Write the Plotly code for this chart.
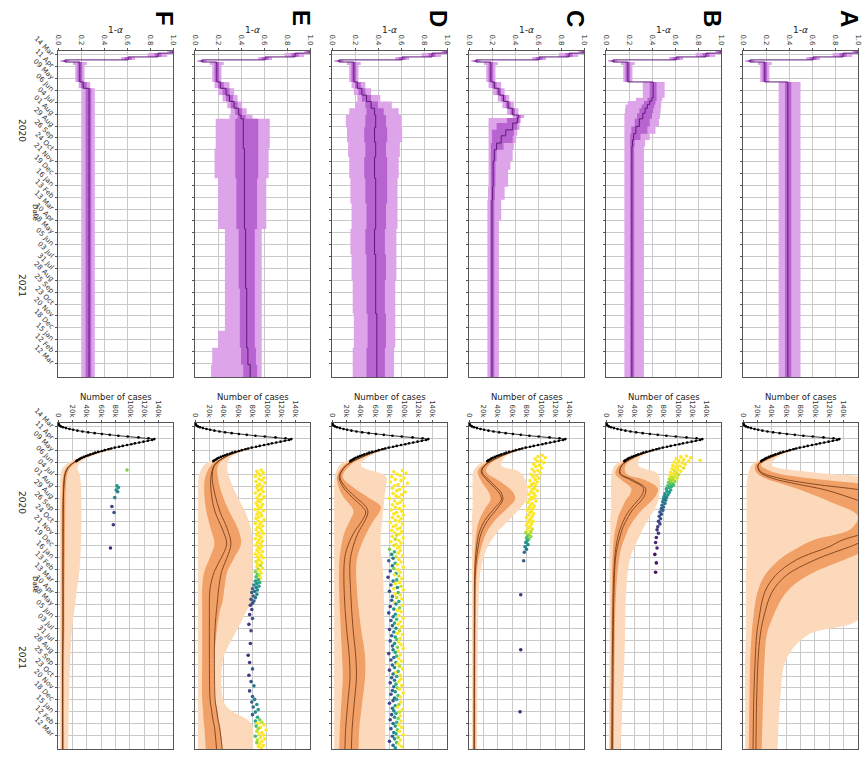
import pandas as pd
import plotly.graph_objects as go

# ------------------------------------------------------------------
# Time axis: days are counted from the first day of the record
# ------------------------------------------------------------------
START = pd.Timestamp("2020-03-05")
AXIS_END = pd.Timestamp("2022-04-13")
TICK_DATES = pd.date_range("2020-03-14", "2022-03-12", freq="28D")

PANELS = ["F", "E", "D", "C", "B", "A"]          # left to right

# ------------------------------------------------------------------
# 1-alpha : rows = (day, median, inner_lo, inner_hi, outer_lo, outer_hi)
# ------------------------------------------------------------------
ALPHA_EARLY = [
    (0, 1.00, 0.97, 1.00, 0.95, 1.00),
    (5, 0.87, 0.84, 0.90, 0.78, 0.95),
    (14, 0.61, 0.58, 0.64, 0.55, 0.67),
    (21, 0.06, 0.04, 0.08, 0.02, 0.10),
    (26, 0.19, 0.17, 0.21, 0.13, 0.25),
    (33, 0.19, 0.17, 0.21, 0.15, 0.23),
]
ALPHA_A = [
    (73, 0.39, 0.365, 0.42, 0.31, 0.50),
    (770, 0.39, 0.365, 0.42, 0.31, 0.50),
]
ALPHA_B = [
    (73, 0.41, 0.38, 0.44, 0.32, 0.51),
    (110, 0.40, 0.36, 0.44, 0.26, 0.49),
    (118, 0.38, 0.33, 0.43, 0.19, 0.48),
    (126, 0.36, 0.31, 0.42, 0.17, 0.48),
    (135, 0.34, 0.29, 0.41, 0.165, 0.475),
    (147, 0.32, 0.27, 0.40, 0.16, 0.47),
    (160, 0.29, 0.25, 0.38, 0.16, 0.46),
    (178, 0.26, 0.22, 0.36, 0.16, 0.43),
    (195, 0.24, 0.21, 0.30, 0.16, 0.38),
    (210, 0.23, 0.21, 0.25, 0.16, 0.34),
    (225, 0.225, 0.21, 0.245, 0.16, 0.33),
    (770, 0.225, 0.21, 0.245, 0.16, 0.33),
]
ALPHA_C = [
    (73, 0.22, 0.20, 0.24, 0.17, 0.28),
    (88, 0.26, 0.24, 0.28, 0.21, 0.31),
    (104, 0.30, 0.28, 0.32, 0.25, 0.35),
    (119, 0.34, 0.32, 0.36, 0.29, 0.39),
    (135, 0.38, 0.36, 0.40, 0.33, 0.43),
    (151, 0.43, 0.41, 0.45, 0.38, 0.48),
    (158, 0.42, 0.33, 0.44, 0.17, 0.45),
    (170, 0.38, 0.24, 0.42, 0.17, 0.44),
    (186, 0.32, 0.20, 0.39, 0.17, 0.42),
    (200, 0.28, 0.20, 0.38, 0.17, 0.41),
    (217, 0.24, 0.19, 0.30, 0.17, 0.39),
    (233, 0.22, 0.19, 0.24, 0.17, 0.38),
    (260, 0.21, 0.19, 0.23, 0.17, 0.36),
    (280, 0.21, 0.19, 0.23, 0.17, 0.34),
    (320, 0.205, 0.19, 0.225, 0.165, 0.31),
    (351, 0.20, 0.185, 0.22, 0.16, 0.28),
    (400, 0.20, 0.185, 0.22, 0.16, 0.26),
    (770, 0.20, 0.185, 0.22, 0.16, 0.26),
]
ALPHA_D = [
    (73, 0.22, 0.20, 0.25, 0.17, 0.29),
    (88, 0.26, 0.23, 0.29, 0.19, 0.34),
    (104, 0.30, 0.26, 0.34, 0.22, 0.42),
    (119, 0.34, 0.29, 0.40, 0.20, 0.52),
    (135, 0.37, 0.30, 0.45, 0.15, 0.58),
    (151, 0.38, 0.29, 0.47, 0.12, 0.60),
    (180, 0.37, 0.28, 0.48, 0.13, 0.61),
    (215, 0.38, 0.29, 0.47, 0.14, 0.59),
    (250, 0.37, 0.28, 0.48, 0.15, 0.58),
    (300, 0.38, 0.29, 0.48, 0.16, 0.57),
    (360, 0.38, 0.30, 0.47, 0.17, 0.57),
    (420, 0.37, 0.29, 0.46, 0.16, 0.56),
    (480, 0.38, 0.30, 0.47, 0.17, 0.56),
    (540, 0.38, 0.30, 0.46, 0.18, 0.55),
    (620, 0.39, 0.31, 0.47, 0.19, 0.55),
    (700, 0.39, 0.30, 0.46, 0.18, 0.54),
    (770, 0.39, 0.30, 0.46, 0.18, 0.54),
]
ALPHA_E = [
    (73, 0.22, 0.20, 0.25, 0.17, 0.30),
    (88, 0.27, 0.24, 0.30, 0.20, 0.34),
    (104, 0.30, 0.27, 0.33, 0.24, 0.37),
    (119, 0.34, 0.31, 0.37, 0.28, 0.41),
    (135, 0.38, 0.35, 0.41, 0.31, 0.45),
    (151, 0.40, 0.37, 0.44, 0.30, 0.50),
    (160, 0.42, 0.35, 0.55, 0.18, 0.65),
    (230, 0.43, 0.35, 0.55, 0.17, 0.64),
    (300, 0.43, 0.36, 0.54, 0.20, 0.62),
    (420, 0.44, 0.38, 0.52, 0.26, 0.58),
    (560, 0.45, 0.39, 0.52, 0.26, 0.58),
    (660, 0.45, 0.39, 0.52, 0.20, 0.58),
    (700, 0.46, 0.40, 0.53, 0.15, 0.58),
    (740, 0.48, 0.42, 0.54, 0.14, 0.58),
    (770, 0.48, 0.42, 0.54, 0.14, 0.58),
]
ALPHA_F = [
    (73, 0.22, 0.20, 0.25, 0.18, 0.28),
    (88, 0.27, 0.24, 0.29, 0.21, 0.32),
    (770, 0.27, 0.24, 0.29, 0.21, 0.32),
]

# ------------------------------------------------------------------
# Number of cases (thousands)
# observed: (day, value)
# model: (day, median, mean, inner_lo, inner_hi, outer_lo, outer_hi)
# ------------------------------------------------------------------
OBSERVED = [
    (0, 0.2), (2, 0.5), (4, 1), (6, 2), (8, 4), (10, 7), (12, 11), (14, 16),
    (16, 21), (18, 27), (20, 34), (22, 42), (24, 51), (26, 61), (28, 72),
    (30, 84), (32, 97), (34, 112), (36, 126), (38, 134), (40, 131), (42, 125),
    (44, 119), (46, 113), (48, 107), (50, 102), (52, 96), (54, 90), (56, 85),
    (58, 79), (60, 74), (62, 70), (64, 65), (66, 61), (68, 56), (70, 52),
    (72, 49), (74, 45), (76, 42), (78, 39), (80, 36), (82, 33), (84, 31),
    (86, 29), (88, 27), (90, 25.5),
]
CASES_A = [
    (60, 74, 74, 72, 76, 70, 78),
    (80, 40, 40, 37, 43, 33, 48),
    (99, 21, 21, 17, 25, 12, 40),
    (115, 25, 23, 18, 40, 8, 90),
    (130, 50, 40, 30, 90, 6, 200),
    (144, 98, 75, 55, 170, 5, 250),
    (158, 165, 115, 80, 250, 5, 300),
    (185, 260, 165, 120, 350, 5, 300),
    (220, 300, 230, 160, 380, 5, 300),
    (250, 200, 260, 150, 350, 5, 300),
    (275, 140, 175, 100, 230, 5, 300),
    (291, 121, 150, 80, 190, 5, 280),
    (323, 74, 100, 50, 140, 5, 250),
    (360, 45, 60, 30, 90, 4, 200),
    (400, 30, 40, 20, 60, 4, 170),
    (464, 22, 28, 14, 40, 4, 160),
    (500, 19, 24, 12, 33, 4, 90),
    (558, 17, 21, 10, 30, 3, 60),
    (650, 15, 19, 9, 28, 3, 52),
    (770, 14, 18, 8, 26, 3, 48),
]
CASES_B = [
    (60, 74, 74, 72, 76, 70, 78),
    (80, 40, 40, 37, 43, 33, 48),
    (100, 22, 22, 18, 27, 12, 45),
    (119, 19, 20, 13, 28, 8, 72),
    (135, 35, 38, 22, 55, 7, 75),
    (154, 52, 55, 35, 72, 7, 75),
    (170, 50, 54, 33, 70, 7, 74),
    (181, 45, 50, 28, 65, 7, 73),
    (205, 33, 37, 21, 50, 7, 67),
    (221, 27, 31, 17, 42, 6, 61),
    (244, 21, 24, 14, 33, 6, 53),
    (259, 18, 21, 12, 29, 6, 49),
    (291, 14, 16, 10, 22, 5, 40),
    (323, 12, 13, 9, 18, 5, 33),
    (400, 10, 11, 8, 14, 5, 28),
    (535, 9, 10, 7, 12, 5, 26),
    (770, 8, 9, 6, 11, 4, 20),
]
CASES_C = [
    (60, 74, 74, 72, 76, 70, 78),
    (80, 42, 42, 40, 45, 35, 50),
    (100, 22, 22, 18, 27, 12, 45),
    (115, 17, 18, 12, 24, 6, 70),
    (140, 28, 31, 18, 45, 5, 80),
    (165, 42, 45, 28, 62, 5, 82),
    (181, 45, 47, 30, 64, 5, 80),
    (200, 36, 40, 23, 54, 5, 72),
    (230, 22, 26, 14, 36, 4, 55),
    (260, 14, 17, 10, 24, 4, 38),
    (300, 10, 12, 8, 16, 4, 24),
    (350, 8, 9, 7, 11, 4, 16),
    (450, 7.5, 8, 6.5, 9.5, 4, 13),
    (770, 7, 7.5, 6, 9, 4, 11),
]
CASES_D = [
    (60, 74, 74, 72, 76, 70, 78),
    (80, 42, 42, 40, 45, 35, 50),
    (100, 20, 20, 16, 25, 10, 40),
    (126, 10, 11, 7, 15, 4, 75),
    (150, 15, 18, 9, 28, 3, 75),
    (175, 28, 33, 16, 50, 3, 73),
    (197, 42, 47, 27, 68, 3, 72),
    (210, 47, 50, 30, 66, 3, 71),
    (230, 42, 46, 25, 58, 3, 70),
    (260, 30, 36, 17, 48, 3, 68),
    (300, 20, 28, 12, 38, 3, 68),
    (330, 17, 25, 10, 34, 3, 70),
    (400, 17, 26, 10, 35, 3, 72),
    (480, 20, 29, 12, 40, 3, 73),
    (550, 24, 33, 14, 46, 3, 74),
    (600, 25, 34, 15, 46, 3, 74),
    (660, 22, 31, 13, 42, 3, 74),
    (720, 19, 28, 11, 38, 3, 74),
    (770, 18, 27, 10, 37, 3, 74),
]
CASES_E = [
    (60, 74, 74, 72, 76, 70, 78),
    (80, 42, 42, 40, 45, 35, 50),
    (100, 27, 27, 22, 32, 12, 45),
    (130, 22, 24, 14, 32, 5, 48),
    (170, 23, 28, 13, 38, 4, 58),
    (210, 28, 35, 16, 48, 4, 70),
    (250, 38, 45, 22, 60, 4, 78),
    (285, 44, 50, 27, 64, 4, 80),
    (320, 36, 44, 20, 54, 4, 80),
    (350, 27, 37, 13, 45, 4, 80),
    (390, 21, 33, 10, 41, 4, 80),
    (424, 20, 31, 10, 38, 4, 80),
    (440, 20, 30, 10, 35, 4, 73),
    (480, 20, 28, 10, 31, 4, 61),
    (528, 20, 27, 10, 28, 4, 46),
    (558, 20, 27, 10, 27, 4, 39),
    (653, 21, 28, 10, 28, 4, 39),
    (676, 23, 30, 11, 31, 4, 48),
    (700, 25, 32, 12, 33, 4, 73),
    (716, 27, 34, 13, 35, 4, 80),
    (770, 30, 38, 15, 38, 4, 80),
]
CASES_F = [
    (60, 74, 74, 72, 76, 70, 78),
    (75, 46, 46, 44, 48, 40, 52),
    (90, 25, 25, 23, 28, 18, 33),
    (105, 14, 14, 12, 17, 7, 27),
    (120, 10, 10, 8, 13, 4, 30),
    (150, 8, 8, 6, 11, 3, 32),
    (323, 7, 7, 5, 9.5, 3, 31),
    (400, 7, 7, 5, 9, 3, 26),
    (480, 7, 7, 5, 9, 3, 20),
    (558, 6.5, 6.5, 5, 8.5, 3, 17),
    (770, 6.5, 6.5, 5, 8.5, 3, 14),
]

# scattered estimates: (day, value in thousands, colour 0..1)
DOTS_A = []
DOTS_B = [
    (78, 112, 1), (80, 104, 1), (82, 118, 1), (84, 98, 1), (86, 108, 1), (88, 131, 1),
    (89, 101, 1), (90, 115, 1), (92, 95, 1), (94, 106, 1), (96, 99, 1), (98, 110, 1),
    (100, 93, 1), (102, 103, 1), (104, 97, 1), (106, 108, .95), (108, 92, 1), (110, 100, 1),
    (112, 95, .95), (114, 104, 1), (116, 90, 1), (118, 98, .95), (120, 94, 1), (122, 101, .9),
    (124, 89, 1), (126, 96, .95), (128, 92, .9), (130, 99, .95), (132, 88, .9), (134, 94, .9),
    (136, 90, .85), (138, 96, .85), (140, 87, .8), (142, 92, .8), (144, 89, .75),
    (146, 94, .7), (148, 86, .7), (150, 91, .65), (152, 88, .65), (155, 84, .6), (158, 90, .6),
    (161, 85, .55), (164, 88, .55), (167, 82, .5), (170, 86, .5), (173, 81, .5), (176, 84, .45),
    (179, 80, .45), (182, 83, .4), (186, 79, .4), (190, 82, .4), (194, 78, .35), (198, 80, .35),
    (202, 77, .3), (206, 79, .3), (210, 75, .3), (215, 77, .25), (220, 74, .25), (226, 76, .25),
    (232, 73, .2), (238, 75, .2), (245, 72, .2), (252, 71, .15), (260, 73, .15), (270, 70, .1),
    (282, 69, .1), (295, 71, .1), (310, 68, .05), (330, 70, .05), (352, 69, .05),
]
DOTS_C = [
    (76, 102, 1), (79, 96, 1), (82, 106, 1), (85, 92, 1), (88, 100, 1), (91, 95, 1),
    (94, 104, 1), (97, 90, 1), (100, 98, 1), (103, 93, 1), (106, 101, 1), (109, 88, 1),
    (112, 96, 1), (115, 91, 1), (118, 99, 1), (121, 86, 1), (124, 94, 1), (127, 89, 1),
    (130, 97, 1), (133, 92, 1), (136, 85, 1), (139, 95, 1), (142, 90, 1), (145, 87, 1),
    (148, 93, 1), (151, 84, 1), (154, 91, 1), (157, 88, 1), (160, 95, 1), (163, 86, 1),
    (166, 90, 1), (169, 83, 1), (172, 92, 1), (175, 87, 1), (178, 89, 1), (181, 85, 1),
    (184, 93, 1), (187, 82, 1), (190, 88, 1), (193, 86, 1), (196, 91, 1), (199, 84, 1),
    (202, 89, 1), (205, 81, 1), (208, 87, 1), (211, 85, 1), (214, 90, 1), (217, 83, 1),
    (220, 88, 1), (223, 80, 1), (226, 86, 1), (229, 84, 1), (232, 89, 1), (235, 82, 1),
    (238, 87, 1), (241, 80, 1), (244, 85, 1), (247, 83, 1), (250, 88, .95), (253, 81, 1),
    (256, 86, .9), (259, 79, .85), (262, 84, .9), (265, 82, .8), (268, 86, .85), (271, 80, .7),
    (274, 83, .75), (278, 81, .6), (282, 79, .5), (287, 82, .5), (292, 78, .45), (298, 80, .4),
    (305, 77, .35), (325, 76, .3), (405, 72, .15), (535, 72, .1), (681, 71, .1),
]
DOTS_D = [
    (112, 98, 1), (115, 86, 1), (118, 103, 1), (121, 91, 1), (124, 95, 1), (127, 83, 1),
    (130, 100, 1), (133, 88, 1), (136, 96, 1), (139, 81, 1), (142, 105, 1), (145, 92, 1),
    (148, 87, 1), (151, 99, 1), (154, 84, 1), (157, 94, 1), (160, 90, 1), (163, 102, 1),
    (166, 85, 1), (169, 97, 1), (172, 89, 1), (175, 93, 1), (178, 80, 1), (181, 98, 1),
    (184, 87, 1), (187, 95, 1), (190, 91, 1), (193, 84, 1), (196, 100, 1), (199, 88, 1),
    (202, 94, 1), (205, 82, 1), (208, 97, 1), (211, 90, 1), (214, 86, 1), (217, 99, 1),
    (220, 92, 1), (223, 84, 1), (226, 96, 1), (229, 88, 1), (232, 93, 1), (235, 81, 1),
    (238, 98, 1), (241, 89, 1), (244, 85, 1), (247, 95, 1), (250, 91, 1), (253, 83, 1),
    (256, 97, 1), (259, 87, 1), (262, 94, 1), (265, 90, .95), (268, 84, 1), (271, 99, 1),
    (274, 88, .9), (277, 93, 1), (280, 82, 1), (283, 96, 1), (286, 89, 1), (289, 86, .95),
    (292, 94, 1), (295, 91, 1), (298, 80, .8), (301, 95, 1), (304, 87, .7), (307, 92, 1),
    (310, 83, .5), (313, 98, 1), (316, 89, .9), (319, 85, .4), (322, 93, 1), (325, 79, .3),
    (328, 96, 1), (331, 88, .6), (334, 91, 1), (337, 84, .35), (340, 99, 1), (343, 86, .8),
    (346, 92, 1), (349, 81, .25), (352, 95, 1), (355, 89, .55), (358, 87, 1), (361, 93, .9),
    (364, 78, .2), (367, 97, 1), (370, 90, .65), (373, 85, .4), (376, 94, 1), (379, 88, 1),
    (382, 82, .3), (385, 96, .95), (388, 91, .5), (391, 86, 1), (394, 99, 1), (397, 80, .25),
    (400, 92, .7), (403, 88, 1), (406, 95, 1), (409, 84, .35), (412, 90, .9), (415, 97, 1),
    (418, 83, .3), (421, 93, .6), (424, 87, 1), (427, 89, .45), (430, 98, 1), (433, 81, .2),
    (436, 94, .8), (439, 86, .5), (442, 91, 1), (445, 96, 1), (448, 79, .2), (451, 88, .55),
    (454, 93, 1), (457, 85, .4), (460, 99, 1), (463, 90, .7), (466, 82, .3), (469, 95, 1),
    (472, 87, .6), (475, 92, 1), (478, 84, .35), (481, 97, 1), (484, 89, .5), (487, 80, .2),
    (490, 94, .9), (493, 86, .45), (496, 91, 1), (499, 98, 1), (502, 83, .3), (505, 88, .6),
    (508, 95, 1), (511, 90, .75), (514, 81, .25), (517, 93, 1), (520, 87, .5), (523, 96, 1),
    (526, 84, .3), (529, 91, .8), (532, 99, 1), (535, 85, .4), (538, 92, 1), (541, 88, .6),
    (544, 79, .2), (547, 95, 1), (550, 90, .7), (553, 86, .35), (556, 93, 1), (559, 82, .25),
    (562, 97, 1), (565, 89, .55), (568, 91, 1), (571, 84, .3), (574, 94, .9), (577, 87, .5),
    (580, 98, 1), (583, 80, .2), (586, 92, .7), (589, 88, 1), (592, 85, .4), (595, 95, 1),
    (598, 90, .6), (601, 83, .3), (604, 96, 1), (607, 87, .45), (610, 93, 1), (613, 81, .2),
    (616, 89, .65), (619, 97, 1), (622, 86, .35), (625, 91, .8), (628, 94, 1), (631, 84, .3),
    (634, 88, .5), (637, 99, 1), (640, 82, .25), (643, 92, .7), (646, 95, 1), (649, 87, .4),
    (652, 90, .6), (655, 85, .3), (658, 96, 1), (661, 80, .2), (664, 93, .85), (667, 88, .5),
    (670, 91, 1), (673, 84, .35), (676, 98, 1), (679, 86, .45), (682, 94, .9), (685, 89, .6),
    (688, 83, .25), (691, 95, 1), (694, 87, .5), (697, 92, .8), (700, 81, .2), (703, 96, 1),
    (706, 90, .65), (709, 85, .35), (712, 93, 1), (715, 88, .55), (718, 97, 1), (721, 82, .25),
    (724, 91, .75), (727, 94, 1), (730, 86, .4), (733, 89, .6), (736, 99, 1), (739, 84, .3),
    (742, 92, .85), (745, 87, .5), (748, 95, 1), (751, 80, .2), (754, 90, .7), (757, 93, 1),
    (760, 85, .35), (763, 97, 1), (766, 88, .55),
]
DOTS_E = [
    (111, 92, 1), (114, 86, 1), (117, 95, 1), (120, 88, 1), (123, 91, 1), (126, 84, 1),
    (129, 96, 1), (132, 89, 1), (135, 93, 1), (138, 85, 1), (141, 97, 1), (144, 90, 1),
    (147, 87, 1), (150, 94, 1), (153, 86, 1), (156, 92, 1), (159, 88, 1), (162, 95, 1),
    (165, 84, 1), (168, 91, 1), (171, 89, 1), (174, 96, 1), (177, 86, 1), (180, 93, 1),
    (183, 88, 1), (186, 90, 1), (189, 85, 1), (192, 94, 1), (195, 87, 1), (198, 92, 1),
    (201, 89, 1), (204, 84, 1), (207, 95, 1), (210, 88, 1), (213, 91, 1), (216, 86, 1),
    (219, 93, 1), (222, 89, 1), (225, 85, 1), (228, 96, 1), (231, 88, 1), (234, 92, 1),
    (237, 84, 1), (240, 90, 1), (243, 94, 1), (246, 87, 1), (249, 91, 1), (252, 85, 1),
    (255, 93, 1), (258, 88, 1), (261, 95, 1), (264, 86, 1), (267, 90, 1), (270, 92, 1),
    (273, 84, 1), (276, 89, 1), (279, 94, 1), (282, 87, 1), (285, 91, 1), (288, 85, 1),
    (291, 93, 1), (294, 88, 1), (297, 90, 1), (300, 86, 1), (303, 94, 1), (306, 89, 1),
    (309, 84, 1), (312, 92, 1), (315, 87, 1), (318, 95, 1), (321, 88, 1), (324, 90, 1),
    (327, 85, .95), (330, 93, 1), (333, 87, 1), (336, 91, .9), (339, 86, 1), (342, 94, 1),
    (345, 88, .85), (348, 90, 1), (351, 84, .8), (354, 92, 1), (357, 87, .75), (360, 89, .9),
    (363, 85, .7), (366, 91, 1), (370, 88, .6), (373, 84, .55), (376, 90, .65), (379, 86, .5),
    (382, 82, .45), (385, 89, .55), (388, 85, .4), (391, 80, .35), (394, 87, .5), (397, 83, .35),
    (400, 79, .3), (404, 86, .45), (408, 81, .3), (412, 84, .4), (416, 78, .25), (420, 82, .3),
    (425, 80, .25), (430, 77, .2), (440, 79, .2), (452, 76, .15), (461, 80, .25), (475, 75, .15),
    (490, 78, .2), (520, 77, .15), (548, 74, .1), (565, 76, .15), (580, 80, .3), (595, 75, .15),
    (610, 78, .25), (620, 82, .4), (632, 76, .2), (645, 80, .3), (652, 83, .45), (658, 79, .3),
    (664, 86, .5), (670, 81, .35), (676, 88, .55), (682, 84, .45), (688, 80, .3), (694, 87, .6),
    (700, 90, .8), (703, 84, .6), (706, 93, .9), (709, 87, 1), (712, 96, 1), (715, 85, .7),
    (718, 91, 1), (721, 88, .85), (724, 99, 1), (727, 86, .9), (730, 93, 1), (733, 89, 1),
    (736, 95, 1), (739, 84, .7), (742, 91, 1), (745, 97, 1), (748, 87, .9), (751, 93, 1),
    (754, 86, .8), (757, 90, 1), (760, 95, 1), (763, 88, 1), (766, 92, 1),
]
DOTS_F = [
    (111, 96, .8), (148, 82, .55), (152, 84, .5), (158, 81, .5), (162, 83, .45),
    (176, 79, .45), (197, 75, .2), (211, 78, .25), (240, 77, .15), (295, 73, .1),
]

ALPHA = {"A": ALPHA_A, "B": ALPHA_B, "C": ALPHA_C, "D": ALPHA_D, "E": ALPHA_E, "F": ALPHA_F}
CASES = {"A": CASES_A, "B": CASES_B, "C": CASES_C, "D": CASES_D, "E": CASES_E, "F": CASES_F}
DOTS = {"A": DOTS_A, "B": DOTS_B, "C": DOTS_C, "D": DOTS_D, "E": DOTS_E, "F": DOTS_F}

# ------------------------------------------------------------------
# Styling
# ------------------------------------------------------------------
PURPLE_LIGHT = "#dea4ea"
PURPLE_DARK = "#b764d0"
PURPLE_LINE = "#5e1a78"
ORANGE_LIGHT = "#fdd9bb"
ORANGE_DARK = "#f1a067"
ORANGE_LINE = "#6e3510"
GRID = "#c9c9c9"
FRAME = "#555555"
FONT = "DejaVu Sans"

W, H = 866, 757
COL_LEFT = [58, 195, 332, 469, 606, 743]
COL_W = 115
ROW_TOP = [51, 423]
ROW_H = 326


def to_dates(days):
    return [START + pd.Timedelta(days=float(d)) for d in days]


def col(rows, i):
    return [r[i] for r in rows]


fig = go.Figure()


def ref(k):
    return ("x" if k == 1 else f"x{k}"), ("y" if k == 1 else f"y{k}")


def band(k, days, lo, hi, color, shape):
    xr, yr = ref(k)
    d = to_dates(days)
    common = dict(mode="lines", xaxis=xr, yaxis=yr, hoverinfo="skip", showlegend=False)
    fig.add_trace(go.Scatter(x=lo, y=d, line=dict(width=0, shape=shape, color=color), **common))
    fig.add_trace(go.Scatter(x=hi, y=d, line=dict(width=0, shape=shape, color=color),
                             fill="tonextx", fillcolor=color, **common))


def line(k, days, vals, color, width, shape):
    xr, yr = ref(k)
    fig.add_trace(go.Scatter(x=vals, y=to_dates(days), mode="lines", xaxis=xr, yaxis=yr,
                             line=dict(color=color, width=width, shape=shape),
                             hoverinfo="skip", showlegend=False))


def thousands(v):
    return [x * 1000 for x in v]


for c, p in enumerate(PANELS):
    # top row: 1 - alpha
    k = c + 1
    rows = ALPHA_EARLY + ALPHA[p]
    days = col(rows, 0)
    band(k, days, col(rows, 4), col(rows, 5), PURPLE_LIGHT, "vh")
    band(k, days, col(rows, 2), col(rows, 3), PURPLE_DARK, "vh")
    line(k, days, col(rows, 1), PURPLE_LINE, 1.0, "vh")

    # bottom row: number of cases
    k = c + 7
    rows = CASES[p]
    days = col(rows, 0)
    band(k, days, thousands(col(rows, 5)), thousands(col(rows, 6)), ORANGE_LIGHT, "spline")
    band(k, days, thousands(col(rows, 3)), thousands(col(rows, 4)), ORANGE_DARK, "spline")
    line(k, days, thousands(col(rows, 1)), ORANGE_LINE, 0.8, "spline")
    line(k, days, thousands(col(rows, 2)), ORANGE_LINE, 0.8, "spline")

    xr, yr = ref(k)
    fig.add_trace(go.Scatter(
        x=thousands(col(OBSERVED, 1)), y=to_dates(col(OBSERVED, 0)), mode="lines+markers",
        xaxis=xr, yaxis=yr, line=dict(color="black", width=0.8),
        marker=dict(color="black", size=2.6), hoverinfo="skip", showlegend=False))
    if DOTS[p]:
        fig.add_trace(go.Scatter(
            x=thousands(col(DOTS[p], 1)), y=to_dates(col(DOTS[p], 0)), mode="markers",
            xaxis=xr, yaxis=yr,
            marker=dict(size=3.6, color=col(DOTS[p], 2), colorscale="Viridis", cmin=0, cmax=1),
            hoverinfo="skip", showlegend=False))

# ------------------------------------------------------------------
# Axes (fixed geometry: no automatic margin growth)
# ------------------------------------------------------------------
layout_axes = {}
for r in range(2):
    for c in range(6):
        k = r * 6 + c + 1
        x0 = COL_LEFT[c] / W
        x1 = (COL_LEFT[c] + COL_W) / W
        y1 = 1 - ROW_TOP[r] / H
        y0 = 1 - (ROW_TOP[r] + ROW_H) / H
        xr, yr = ref(k)
        if r == 0:
            xt = dict(range=[0, 1], tickvals=[0, 0.2, 0.4, 0.6, 0.8, 1.0],
                      ticktext=["0.0", "0.2", "0.4", "0.6", "0.8", "1.0"])
        else:
            xt = dict(range=[0, 160000], tickvals=[0, 20000, 40000, 60000, 80000, 100000, 120000, 140000],
                      ticktext=["0", "20k", "40k", "60k", "80k", "100k", "120k", "140k"])
        layout_axes["xaxis" if k == 1 else f"xaxis{k}"] = dict(
            domain=[x0, x1], anchor=yr, side="top", tickangle=90, automargin=False,
            tickfont=dict(size=7, color="#333", family=FONT),
            showgrid=True, gridcolor=GRID, gridwidth=0.8, zeroline=False,
            showline=True, linecolor=FRAME, linewidth=1, mirror=True,
            ticks="outside", ticklen=2, tickcolor=FRAME, fixedrange=True, **xt)
        layout_axes["yaxis" if k == 1 else f"yaxis{k}"] = dict(
            domain=[y0, y1], anchor=xr, type="date", range=[AXIS_END, START], automargin=False,
            tickvals=list(TICK_DATES), ticktext=[d.strftime("%d %b") for d in TICK_DATES],
            showticklabels=(c == 0), tickangle=45,
            tickfont=dict(size=7, color="#333", family=FONT),
            showgrid=True, gridcolor=GRID, gridwidth=0.8, zeroline=False,
            showline=True, linecolor=FRAME, linewidth=1, mirror=True,
            ticks="outside", ticklen=2, tickcolor=FRAME, fixedrange=True)

# ------------------------------------------------------------------
# Text
# ------------------------------------------------------------------
ann = []
for c, p in enumerate(PANELS):
    cx = (COL_LEFT[c] + COL_W / 2) / W
    ann.append(dict(text=f"<b>{p}</b>", x=(COL_LEFT[c] + COL_W - 9) / W, y=1 - 18 / H,
                    textangle=90, font=dict(size=24, family="Liberation Sans", color="black")))
    ann.append(dict(text="1-<i>α</i>", x=cx, y=1 - 30 / H, font=dict(size=9, family=FONT, color="#222")))
    ann.append(dict(text="Number of cases", x=cx, y=1 - 397 / H, font=dict(size=8.5, family=FONT, color="#222")))
for top in ROW_TOP:
    ann.append(dict(text="2020", x=22 / W, y=1 - (top + 79) / H, textangle=90,
                    font=dict(size=9, family=FONT, color="#222")))
    ann.append(dict(text="Date", x=35 / W, y=1 - (top + 161) / H, textangle=90,
                    font=dict(size=7, family=FONT, color="#222")))
    ann.append(dict(text="2021", x=22 / W, y=1 - (top + 234) / H, textangle=90,
                    font=dict(size=9, family=FONT, color="#222")))
for a in ann:
    a.update(xref="paper", yref="paper", showarrow=False, xanchor="center", yanchor="middle")

fig.update_layout(width=W, height=H, margin=dict(l=0, r=0, t=0, b=0, autoexpand=False),
                  paper_bgcolor="white", plot_bgcolor="white",
                  annotations=ann, **layout_axes)

fig.write_html("out.html")
